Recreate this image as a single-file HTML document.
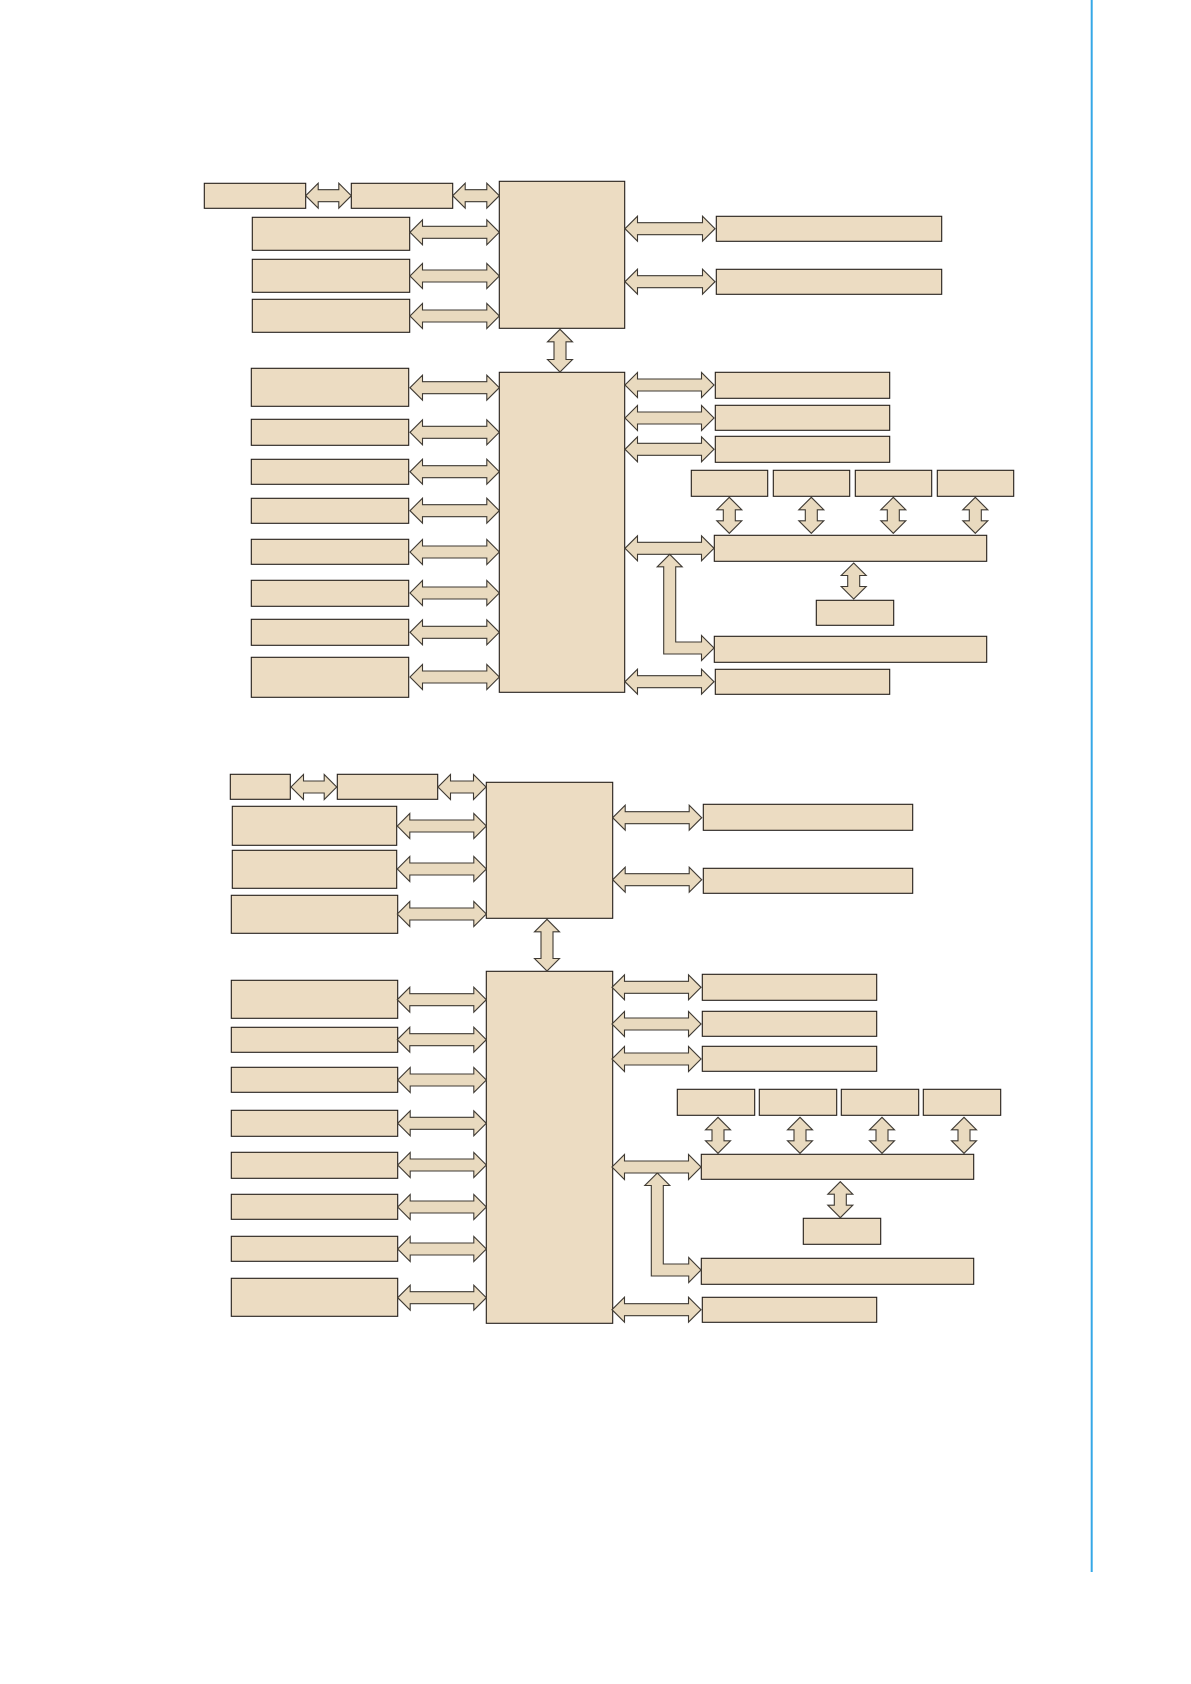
<!DOCTYPE html>
<html lang="en">
<head>
<meta charset="utf-8">
<title>Block diagram</title>
<style>
html,body{margin:0;padding:0;background:#fff;width:1191px;height:1684px;overflow:hidden}
svg{display:block}
.b rect{fill:#ecdcc2;stroke:#241f1a;stroke-width:1.1}
.a path{fill:#e9dabf;stroke:#3f3a33;stroke-width:1.1;stroke-linejoin:miter}
</style>
</head>
<body>
<svg width="1191" height="1684" viewBox="0 0 1191 1684" xmlns="http://www.w3.org/2000/svg">
<rect width="1191" height="1684" fill="#fff"/>
<rect x="1090.7" y="0" width="2" height="1572" fill="#35a8e6"/>

<g class="b">
<!-- upper -->
<rect x="204.3" y="183.3" width="101.4" height="25"/>
<rect x="351.3" y="183.3" width="101.4" height="25"/>
<rect x="252.3" y="217.3" width="157.4" height="33"/>
<rect x="252.3" y="259.3" width="157.4" height="33"/>
<rect x="252.3" y="299.3" width="157.4" height="33"/>
<rect x="499.3" y="181.3" width="125.4" height="147"/>
<rect x="499.3" y="372.3" width="125.4" height="320"/>
<rect x="251.3" y="368.3" width="157.4" height="38"/>
<rect x="251.3" y="419.3" width="157.4" height="26"/>
<rect x="251.3" y="459.3" width="157.4" height="25"/>
<rect x="251.3" y="498.3" width="157.4" height="25"/>
<rect x="251.3" y="539.3" width="157.4" height="25"/>
<rect x="251.3" y="580.3" width="157.4" height="26"/>
<rect x="251.3" y="619.3" width="157.4" height="26"/>
<rect x="251.3" y="657.3" width="157.4" height="40"/>
<rect x="716.3" y="216.3" width="225.4" height="25"/>
<rect x="716.3" y="269.3" width="225.4" height="25"/>
<rect x="715.3" y="372.3" width="174.4" height="26"/>
<rect x="715.3" y="405.3" width="174.4" height="25"/>
<rect x="715.3" y="436.3" width="174.4" height="26"/>
<rect x="691.3" y="470.3" width="76.4" height="26"/>
<rect x="773.3" y="470.3" width="76.4" height="26"/>
<rect x="855.3" y="470.3" width="76.4" height="26"/>
<rect x="937.3" y="470.3" width="76.4" height="26"/>
<rect x="714.3" y="535.3" width="272.4" height="26"/>
<rect x="816.3" y="600.3" width="77.4" height="25"/>
<rect x="714.3" y="636.3" width="272.4" height="26"/>
<rect x="715.3" y="669.3" width="174.4" height="25"/>
<!-- lower -->
<rect x="230.3" y="774.3" width="60" height="25"/>
<rect x="337.3" y="774.3" width="100.4" height="25"/>
<rect x="232.3" y="806.3" width="164.4" height="39"/>
<rect x="232.3" y="850.3" width="164.4" height="38"/>
<rect x="231.3" y="895.3" width="166.4" height="38"/>
<rect x="486.3" y="782.3" width="126.4" height="136"/>
<rect x="486.3" y="971.3" width="126.4" height="352"/>
<rect x="231.3" y="980.3" width="166.4" height="38"/>
<rect x="231.3" y="1027.3" width="166.4" height="25"/>
<rect x="231.3" y="1067.3" width="166.4" height="25"/>
<rect x="231.3" y="1110.3" width="166.4" height="26"/>
<rect x="231.3" y="1152.3" width="166.4" height="26"/>
<rect x="231.3" y="1194.3" width="166.4" height="25"/>
<rect x="231.3" y="1236.3" width="166.4" height="25"/>
<rect x="231.3" y="1278.3" width="166.4" height="38"/>
<rect x="703.3" y="804.3" width="209.4" height="26"/>
<rect x="703.3" y="868.3" width="209.4" height="25"/>
<rect x="702.3" y="974.3" width="174.4" height="26"/>
<rect x="702.3" y="1011.3" width="174.4" height="25"/>
<rect x="702.3" y="1046.3" width="174.4" height="25"/>
<rect x="677.3" y="1089.3" width="77.4" height="26"/>
<rect x="759.3" y="1089.3" width="77.4" height="26"/>
<rect x="841.3" y="1089.3" width="77.4" height="26"/>
<rect x="923.3" y="1089.3" width="77.4" height="26"/>
<rect x="701.3" y="1154.3" width="272.4" height="25"/>
<rect x="803.3" y="1218.3" width="77.4" height="26"/>
<rect x="701.3" y="1258.3" width="272.4" height="26"/>
<rect x="702.3" y="1297.3" width="174.4" height="25"/>
</g>

<g class="a">
<!-- upper horizontal -->
<path d="M305.7 195.7l12.5-12.5v6.5h20.6v-6.5l12.5 12.5-12.5 12.5v-6.5h-20.6v6.5z"/>
<path d="M452.7 195.7l12.5-12.5v6.5h21.6v-6.5l12.5 12.5-12.5 12.5v-6.5h-21.6v6.5z"/>
<path d="M410 232.3l12.5-12.5v6.5h64.3v-6.5l12.5 12.5-12.5 12.5v-6.5h-64.3v6.5z"/>
<path d="M410 276l12.5-12.5v6.5h64.3v-6.5l12.5 12.5-12.5 12.5v-6.5h-64.3v6.5z"/>
<path d="M410 316l12.5-12.5v6.5h64.3v-6.5l12.5 12.5-12.5 12.5v-6.5h-64.3v6.5z"/>
<path d="M410 387.7l12.5-12.5v6.5h64.3v-6.5l12.5 12.5-12.5 12.5v-6.5h-64.3v6.5z"/>
<path d="M410 432.3l12.5-12.5v6.5h64.3v-6.5l12.5 12.5-12.5 12.5v-6.5h-64.3v6.5z"/>
<path d="M410 471.7l12.5-12.5v6.5h64.3v-6.5l12.5 12.5-12.5 12.5v-6.5h-64.3v6.5z"/>
<path d="M410 510.7l12.5-12.5v6.5h64.3v-6.5l12.5 12.5-12.5 12.5v-6.5h-64.3v6.5z"/>
<path d="M410 552l12.5-12.5v6.5h64.3v-6.5l12.5 12.5-12.5 12.5v-6.5h-64.3v6.5z"/>
<path d="M410 593l12.5-12.5v6.5h64.3v-6.5l12.5 12.5-12.5 12.5v-6.5h-64.3v6.5z"/>
<path d="M410 632.3l12.5-12.5v6.5h64.3v-6.5l12.5 12.5-12.5 12.5v-6.5h-64.3v6.5z"/>
<path d="M410 677l12.5-12.5v6.5h64.3v-6.5l12.5 12.5-12.5 12.5v-6.5h-64.3v6.5z"/>
<path d="M625 228.7l12.5-12.5v6.5h65v-6.5l12.5 12.5-12.5 12.5v-6.5h-65v6.5z"/>
<path d="M625 281.7l12.5-12.5v6.5h65v-6.5l12.5 12.5-12.5 12.5v-6.5h-65v6.5z"/>
<path d="M625 385l12.5-12.5v6.5h64v-6.5l12.5 12.5-12.5 12.5v-6.5h-64v6.5z"/>
<path d="M625 418l12.5-12.5v6.5h64v-6.5l12.5 12.5-12.5 12.5v-6.5h-64v6.5z"/>
<path d="M625 449.3l12.5-12.5v6.5h64v-6.5l12.5 12.5-12.5 12.5v-6.5h-64v6.5z"/>
<path d="M625 548.3l12.5-12.5v6.5h64v-6.5l12.5 12.5-12.5 12.5v-6.5h-64v6.5z"/>
<path d="M625 681.7l12.5-12.5v6.5h64v-6.5l12.5 12.5-12.5 12.5v-6.5h-64v6.5z"/>
<!-- upper vertical -->
<path d="M560 329.3l12.5 12.5h-6.5v17.7h6.5l-12.5 12.5-12.5-12.5h6.5v-17.7h-6.5z"/>
<path d="M729.3 497.3l12.5 12.5h-6.5v11h6.5l-12.5 12.5-12.5-12.5h6.5v-11h-6.5z"/>
<path d="M811.3 497.3l12.5 12.5h-6.5v11h6.5l-12.5 12.5-12.5-12.5h6.5v-11h-6.5z"/>
<path d="M893.3 497.3l12.5 12.5h-6.5v11h6.5l-12.5 12.5-12.5-12.5h6.5v-11h-6.5z"/>
<path d="M975.3 497.3l12.5 12.5h-6.5v11h6.5l-12.5 12.5-12.5-12.5h6.5v-11h-6.5z"/>
<path d="M853.7 563l12.5 12.5h-6.5v11h6.5l-12.5 12.5-12.5-12.5h6.5v-11h-6.5z"/>
<!-- upper L -->
<path d="M669.7 554.3l12.5 12.5h-6.5V642H701.5v-6.5L714 648l-12.5 12.5v-6.5H663.7V566.8h-6.5z"/>

<!-- lower horizontal -->
<path d="M291 787l12.5-12.5v6.5h20.7v-6.5l12.5 12.5-12.5 12.5v-6.5h-20.7v6.5z"/>
<path d="M438 787l12.5-12.5v6.5h23v-6.5l12.5 12.5-12.5 12.5v-6.5h-23v6.5z"/>
<path d="M397.3 826l12.5-12.5v6.5h64v-6.5l12.5 12.5-12.5 12.5v-6.5h-64v6.5z"/>
<path d="M397.3 869l12.5-12.5v6.5h64v-6.5l12.5 12.5-12.5 12.5v-6.5h-64v6.5z"/>
<path d="M397.3 914l12.5-12.5v6.5h64v-6.5l12.5 12.5-12.5 12.5v-6.5h-64v6.5z"/>
<path d="M397.3 999.7l12.5-12.5v6.5h64v-6.5l12.5 12.5-12.5 12.5v-6.5h-64v6.5z"/>
<path d="M397.3 1039.7l12.5-12.5v6.5h64v-6.5l12.5 12.5-12.5 12.5v-6.5h-64v6.5z"/>
<path d="M397.7 1080l12.5-12.5v6.5h63.6v-6.5l12.5 12.5-12.5 12.5v-6.5h-63.6v6.5z"/>
<path d="M397.7 1123.3l12.5-12.5v6.5h63.6v-6.5l12.5 12.5-12.5 12.5v-6.5h-63.6v6.5z"/>
<path d="M397.7 1165l12.5-12.5v6.5h63.6v-6.5l12.5 12.5-12.5 12.5v-6.5h-63.6v6.5z"/>
<path d="M397.7 1207l12.5-12.5v6.5h63.6v-6.5l12.5 12.5-12.5 12.5v-6.5h-63.6v6.5z"/>
<path d="M397.7 1249l12.5-12.5v6.5h63.6v-6.5l12.5 12.5-12.5 12.5v-6.5h-63.6v6.5z"/>
<path d="M397.7 1297.7l12.5-12.5v6.5h63.6v-6.5l12.5 12.5-12.5 12.5v-6.5h-63.6v6.5z"/>
<path d="M612.7 817.7l12.5-12.5v6.5h64v-6.5l12.5 12.5-12.5 12.5v-6.5h-64v6.5z"/>
<path d="M612.7 879.7l12.5-12.5v6.5h64v-6.5l12.5 12.5-12.5 12.5v-6.5h-64v6.5z"/>
<path d="M612 987.3l12.5-12.5v6.5h64v-6.5l12.5 12.5-12.5 12.5v-6.5h-64v6.5z"/>
<path d="M612 1024l12.5-12.5v6.5h64v-6.5l12.5 12.5-12.5 12.5v-6.5h-64v6.5z"/>
<path d="M612 1059l12.5-12.5v6.5h64v-6.5l12.5 12.5-12.5 12.5v-6.5h-64v6.5z"/>
<path d="M612 1167l12.5-12.5v6.5h64v-6.5l12.5 12.5-12.5 12.5v-6.5h-64v6.5z"/>
<path d="M612 1309.7l12.5-12.5v6.5h64v-6.5l12.5 12.5-12.5 12.5v-6.5h-64v6.5z"/>
<!-- lower vertical -->
<path d="M547 919.3l12.5 12.5h-6.5v26.7h6.5l-12.5 12.5-12.5-12.5h6.5v-26.7h-6.5z"/>
<path d="M718 1117.3l12.5 12.5h-6.5v11h6.5l-12.5 12.5-12.5-12.5h6.5v-11h-6.5z"/>
<path d="M800 1117.3l12.5 12.5h-6.5v11h6.5l-12.5 12.5-12.5-12.5h6.5v-11h-6.5z"/>
<path d="M882 1117.3l12.5 12.5h-6.5v11h6.5l-12.5 12.5-12.5-12.5h6.5v-11h-6.5z"/>
<path d="M964 1117.3l12.5 12.5h-6.5v11h6.5l-12.5 12.5-12.5-12.5h6.5v-11h-6.5z"/>
<path d="M840.3 1181.7l12.5 12.5h-6.5v11h6.5l-12.5 12.5-12.5-12.5h6.5v-11h-6.5z"/>
<!-- lower L -->
<path d="M657.3 1173l12.5 12.5h-6.5V1264H688.7v-6.5L701 1270l-12.3 12.5v-6.5H651.3V1185.5h-6.5z"/>
</g>
</svg>
</body>
</html>
